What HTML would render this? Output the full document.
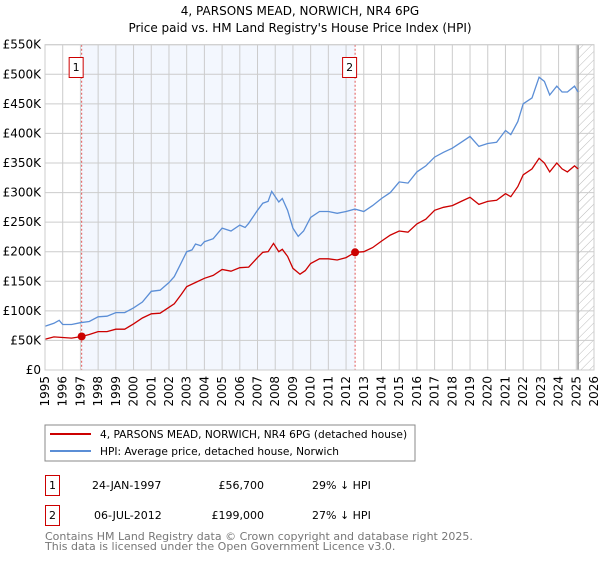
<!DOCTYPE html>
<html><head><meta charset="utf-8"><style>
body{margin:0;background:#fff;width:600px;height:560px;overflow:hidden;font-family:"DejaVu Sans","Liberation Sans",sans-serif}
svg text{font-family:"DejaVu Sans","Liberation Sans",sans-serif}
</style></head><body>
<svg id="c" width="600" height="560" xmlns="http://www.w3.org/2000/svg">
<defs><pattern id="hatch" width="6" height="6" patternUnits="userSpaceOnUse" patternTransform="rotate(45)"><line x1="0" y1="0" x2="0" y2="6" stroke="#bbb" stroke-width="1"/></pattern></defs>
<text x="300" y="15" text-anchor="middle" font-size="12">4, PARSONS MEAD, NORWICH, NR4 6PG</text>
<text x="300" y="32" text-anchor="middle" font-size="12">Price paid vs. HM Land Registry's House Price Index (HPI)</text>
<g id="plot"></g>
<rect x="45" y="425" width="370" height="36" fill="#fff" stroke="#888"/>
<line x1="50" y1="434" x2="91" y2="434" stroke="#cc0000" stroke-width="2"/>
<text x="100" y="438" font-size="10.6">4, PARSONS MEAD, NORWICH, NR4 6PG (detached house)</text>
<line x1="50" y1="451" x2="91" y2="451" stroke="#5b8ed6" stroke-width="2"/>
<text x="100" y="455" font-size="10.6">HPI: Average price, detached house, Norwich</text>
<g font-size="11">
<rect x="45.5" y="475.5" width="14" height="20" fill="none" stroke="#cc0000"/>
<text x="52.5" y="489" text-anchor="middle">1</text>
<text x="92" y="489">24-JAN-1997</text>
<text x="264" y="489" text-anchor="end">£56,700</text>
<text x="312" y="489">29% ↓ HPI</text>
<rect x="45.5" y="505.5" width="14" height="20" fill="none" stroke="#cc0000"/>
<text x="52.5" y="519" text-anchor="middle">2</text>
<text x="94" y="519">06-JUL-2012</text>
<text x="264" y="519" text-anchor="end">£199,000</text>
<text x="312" y="519">27% ↓ HPI</text>
</g>
<text x="45" y="540" font-size="11" fill="#777">Contains HM Land Registry data © Crown copyright and database right 2025.</text>
<text x="45" y="550" font-size="11" fill="#777">This data is licensed under the Open Government Licence v3.0.</text>
</svg>
<script>
const hpiX=[1995,1995.5,1995.8,1996,1996.5,1997,1997.5,1998,1998.5,1999,1999.5,2000,2000.5,2001,2001.5,2002,2002.3,2002.7,2003,2003.3,2003.5,2003.8,2004,2004.5,2005,2005.5,2006,2006.3,2006.5,2007,2007.3,2007.6,2007.8,2008.2,2008.4,2008.7,2009,2009.3,2009.6,2010,2010.5,2011,2011.5,2012,2012.5,2013,2013.5,2014,2014.5,2015,2015.5,2016,2016.5,2017,2017.5,2018,2018.5,2019,2019.5,2020,2020.5,2021,2021.3,2021.7,2022,2022.5,2022.9,2023.2,2023.5,2023.9,2024.2,2024.5,2024.9,2025.1];
const hpiV=[74,79,84,77,77,80,82,90,91,97,97,105,115,133,135,148,158,182,200,203,213,210,217,222,240,235,245,241,248,270,282,285,302,284,290,270,240,226,235,258,268,268,265,268,272,268,278,290,300,318,316,335,345,360,368,375,385,395,378,383,385,405,398,420,450,460,495,488,465,480,470,470,480,470];
const priceX=[1995,1995.5,1996,1996.5,1997.07,1997.5,1998,1998.5,1999,1999.5,2000,2000.5,2001,2001.5,2002,2002.3,2002.7,2003,2003.5,2004,2004.5,2005,2005.5,2006,2006.5,2007,2007.3,2007.6,2007.9,2008.2,2008.4,2008.7,2009,2009.4,2009.7,2010,2010.5,2011,2011.5,2012,2012.51,2013,2013.5,2014,2014.5,2015,2015.5,2016,2016.5,2017,2017.5,2018,2018.5,2019,2019.5,2020,2020.5,2021,2021.3,2021.7,2022,2022.5,2022.9,2023.2,2023.5,2023.9,2024.2,2024.5,2024.9,2025.1];
const priceV=[52,56,55,54,56.7,60,65,65,69,69,78,88,95,96,106,112,128,141,148,155,160,170,167,173,174,190,199,200,214,200,204,192,172,162,168,180,188,188,186,190,199,200,207,218,228,235,233,247,255,270,275,278,285,292,280,285,287,298,293,310,330,340,358,350,335,350,340,335,345,340];
const saleX=[1997.07,2012.51];
const saleV=[56.7,199];
const saleLabels=["1","2"];
const yTicks=[0,50,100,150,200,250,300,350,400,450,500,550];
const yTickLabels=["£0","£50K","£100K","£150K","£200K","£250K","£300K","£350K","£400K","£450K","£500K","£550K"];
const xYears=[1995,1996,1997,1998,1999,2000,2001,2002,2003,2004,2005,2006,2007,2008,2009,2010,2011,2012,2013,2014,2015,2016,2017,2018,2019,2020,2021,2022,2023,2024,2025,2026];
const hatchStart=2025.1;

const L=45,R=594,T=44.7,B=370;
const xS=v=>L+(v-1995)/(2026-1995)*(R-L);
const yS=v=>B-v/550*(B-T);
const g=document.getElementById('plot');
const NS='http://www.w3.org/2000/svg';
function mk(t,a){const e=document.createElementNS(NS,t);for(const k in a)e.setAttribute(k,a[k]);g.appendChild(e);return e;}
let e;
e=mk('rect',{x:L,y:T,width:R-L,height:B-T,fill:'#fff'});


e=mk('rect',{x:xS(saleX[0]),y:T,width:xS(saleX[1])-xS(saleX[0]),height:B-T,fill:'#eef3fd',opacity:0.7});


e=mk('rect',{x:xS(hatchStart),y:T,width:R-xS(hatchStart),height:B-T,fill:'url(#hatch)'});


yTicks.forEach((t,i)=>{
 e=mk('line',{x1:L,x2:R,y1:yS(t),y2:yS(t),stroke:'#ccc','stroke-width':1});
 
 
 e=mk('text',{x:L-4,y:yS(t)+4,'text-anchor':'end','font-size':12});
 e.textContent=yTickLabels[i];
 
 
});
xYears.forEach(y=>{
 e=mk('line',{x1:xS(y),x2:xS(y),y1:T,y2:B,stroke:'#ccc','stroke-width':1});
 
 
 e=mk('text',{x:0,y:0,'font-size':12,'text-anchor':'end',transform:`translate(${xS(y)+4},${B+6}) rotate(-90)`});
 e.textContent=y;
 
 
});
e=mk('line',{x1:xS(hatchStart),x2:xS(hatchStart),y1:T,y2:B,stroke:'#999','stroke-width':1.5});


saleX.forEach((sx,i)=>{
 e=mk('line',{x1:xS(sx),x2:xS(sx),y1:T,y2:B,stroke:'#e05555','stroke-width':1,'stroke-dasharray':'2,2'});
 
 
 e=mk('rect',{x:xS(sx)-12.5,y:57.5,width:14,height:20,fill:'#fff',stroke:'#cc0000'});
 
 
 e=mk('text',{x:xS(sx)-5.5,y:71,'text-anchor':'middle','font-size':11});
 e.textContent=saleLabels[i];
 
 
});
const path=(xs,vs)=>xs.map((x,i)=>(i?'L':'M')+xS(x).toFixed(1)+','+yS(vs[i]).toFixed(1)).join('');
e=mk('path',{d:path(hpiX,hpiV),fill:'none',stroke:'#5b8ed6','stroke-width':1.3});


e=mk('path',{d:path(priceX,priceV),fill:'none',stroke:'#cc0000','stroke-width':1.3});


saleX.forEach((sx,i)=>{
 e=mk('circle',{cx:xS(sx),cy:yS(saleV[i]),r:4,fill:'#cc0000'});
 
 
});
e=mk('rect',{x:L,y:T,width:R-L,height:B-T,fill:'none',stroke:'#ccc'});


</script>
</body></html>
